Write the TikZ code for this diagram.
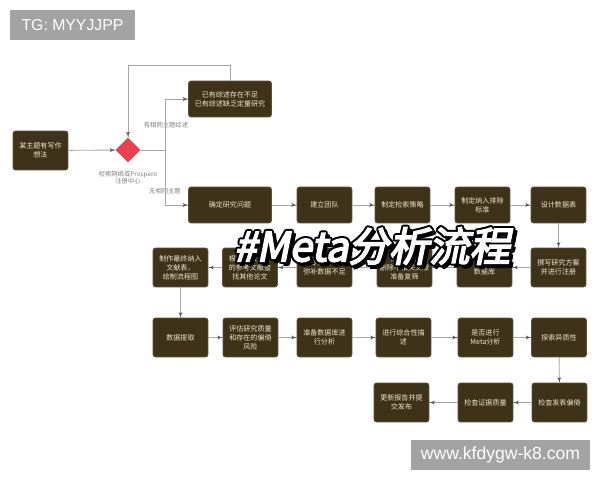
\documentclass[tikz,border=0pt]{standalone}
\usepackage{fontspec}
\setmainfont{Noto Sans CJK SC}
\newfontfamily\wmfont{Liberation Sans}
\newfontfamily\titlefont{Noto Sans CJK SC}[FakeBold=4,FakeSlant=0.2]
\usetikzlibrary{arrows}
\usetikzlibrary{decorations.markings}
\usetikzlibrary{shapes.geometric}
\definecolor{boxbrown}{RGB}{62,51,25}
\definecolor{boxedge}{RGB}{95,82,55}
\definecolor{boxtext}{RGB}{238,232,210}
\definecolor{linegray}{RGB}{165,165,165}
\definecolor{tipgray}{RGB}{90,90,90}
\definecolor{diamondred}{RGB}{234,66,82}
\definecolor{wmgray}{RGB}{163,163,163}
\tikzset{->/.style = {decoration={markings,
                                  mark=at position 1 with {\arrow[scale=0.7,tipgray]{latex'}}},
                      postaction={decorate}}}
\tikzset{msbox/.style={rectangle, rounded corners=1.5pt, draw=boxedge, fill=boxbrown,
                       text=boxtext, align=center, font=\fontsize{4}{5.2}\selectfont,
                       minimum width=1.1cm, minimum height=0.78cm, inner sep=1pt}}
\tikzset{mswide/.style={msbox, minimum width=1.66cm, minimum height=0.72cm}}
\tikzset{msdiamond/.style={diamond, fill=diamondred, minimum size=0.5cm, inner sep=0}}
\tikzset{mslabel/.style={text=gray, font=\fontsize{3.6}{4.4}\selectfont, align=center, inner sep=0}}
\tikzset{mswater/.style={fill=wmgray, text=white, font=\wmfont, inner sep=0}}
\tikzset{mstitle/.style={font=\titlefont\fontsize{23}{23}\selectfont, inner sep=0}}

\begin{document}
\begin{tikzpicture}[x=0.02cm, y=-0.02cm, line width=0.5pt]
    \fill [white] (0,0) rectangle (600,480);
    \useasboundingbox (0,0) rectangle (600,480);

    % start and check
    \node [msbox] (1) at (40.5, 150.5) {某主题有写作\\想法};
    \node [msdiamond] (d) at (128, 150) {};
    \node [mslabel] (dl) at (128, 177.5) {检索网络或Prospero\\注册中心};
    \node [mswide] (u) at (230, 99) {已有综述存在不足\\已有综述缺乏定量研究};
    \coordinate (top) at (128, 65);
    \coordinate (fork) at (165, 150);
    \node [mslabel] (yes) at (166, 125.5) {有相同主题综述};
    \node [mslabel] (no) at (165, 191.5) {无相同主题};

    % row 1
    \node [mswide] (2) at (230, 205) {确定研究问题};
    \node [msbox, minimum height=0.72cm] (3) at (324.5, 205) {建立团队};
    \node [msbox, minimum height=0.72cm] (4) at (402.5, 205) {制定检索策略};
    \node [msbox, minimum height=0.72cm] (5) at (482.5, 205) {制定纳入排除\\标准};
    \node [msbox, minimum height=0.72cm] (6) at (558.5, 205) {设计数据表};

    % row 2
    \node [msbox] (7) at (558.5, 267.5) {撰写研究方案\\并进行注册};
    \node [msbox] (8) at (484.5, 267.5) {检索\\数据库};
    \node [msbox] (9) at (404.5, 267.5) {筛选文献\\删除不相关文献\\准备复筛};
    \node [msbox] (10) at (324.5, 267.5) {与专家联系，\\弥补数据不足};
    \node [msbox] (11) at (250, 267.5) {根据纳入文献\\的参考文献查\\找其他论文};
    \node [msbox] (12) at (180.5, 267.5) {制作最终纳入\\文献表，\\绘制流程图};

    % row 3
    \node [msbox] (13) at (180.5, 337.5) {数据提取};
    \node [msbox] (14) at (250.5, 337.5) {评估研究质量\\和存在的偏倚\\风险};
    \node [msbox] (15) at (324.5, 337.5) {准备数据库进\\行分析};
    \node [msbox] (16) at (403.5, 337.5) {进行综合性描\\述};
    \node [msbox] (17) at (485.5, 337.5) {是否进行\\Meta分析};
    \node [msbox] (18) at (559, 337.5) {探索异质性};

    % row 4
    \node [msbox] (19) at (559.5, 402.5) {检查发表偏倚};
    \node [msbox] (20) at (485.5, 402.5) {检查证据质量};
    \node [msbox] (21) at (401.5, 402.5) {更新报告并提\\交发布};

    \begin{scope}[draw=linegray]
    \draw [->] (1) -- (d);
    \draw [->] (d.east) -- (fork) |- (u.west);
    \draw [->] (fork) |- (2.west);
    \draw [->] (u.north) |- (top) -- (d.north);
    \draw [->] (2) -- (3);
    \draw [->] (3) -- (4);
    \draw [->] (4) -- (5);
    \draw [->] (5) -- (6);
    \draw [->] (6) -- (7);
    \draw [->] (7) -- (8);
    \draw [->] (8) -- (9);
    \draw [->] (9) -- (10);
    \draw [->] (10) -- (11);
    \draw [->] (11) -- (12);
    \draw [->] (12) -- (13);
    \draw [->] (13) -- (14);
    \draw [->] (14) -- (15);
    \draw [->] (15) -- (16);
    \draw [->] (16) -- (17);
    \draw [->] (17) -- (18);
    \draw [->] (18) -- (19);
    \draw [->] (19) -- (20);
    \draw [->] (20) -- (21);
    \end{scope}

    % overlays
    \foreach \dx/\dy in {3.5/3.5, 2.5/4, 4/2.5, 3/2, -2/0, 2/0, 0/-2, 0/2, -1.5/-1.5, 1.5/-1.5, -1.5/1.5, 1.5/1.5}
        \node [mstitle, text=black] at (372+\dx, 246+\dy) {\#Meta分析流程};
    \node [mstitle, text=white] (title) at (372, 246) {\#Meta分析流程};
    \node [mswater, minimum width=2.5cm, minimum height=0.6cm] (tg) at (72.5, 25) {\fontsize{9}{9}\selectfont TG: MYYJJPP};
    \node [mswater, minimum width=3.58cm, minimum height=0.6cm] (url) at (500.5, 455) {\fontsize{10}{10}\selectfont www.kfdygw-k8.com};
\end{tikzpicture}
\end{document}
